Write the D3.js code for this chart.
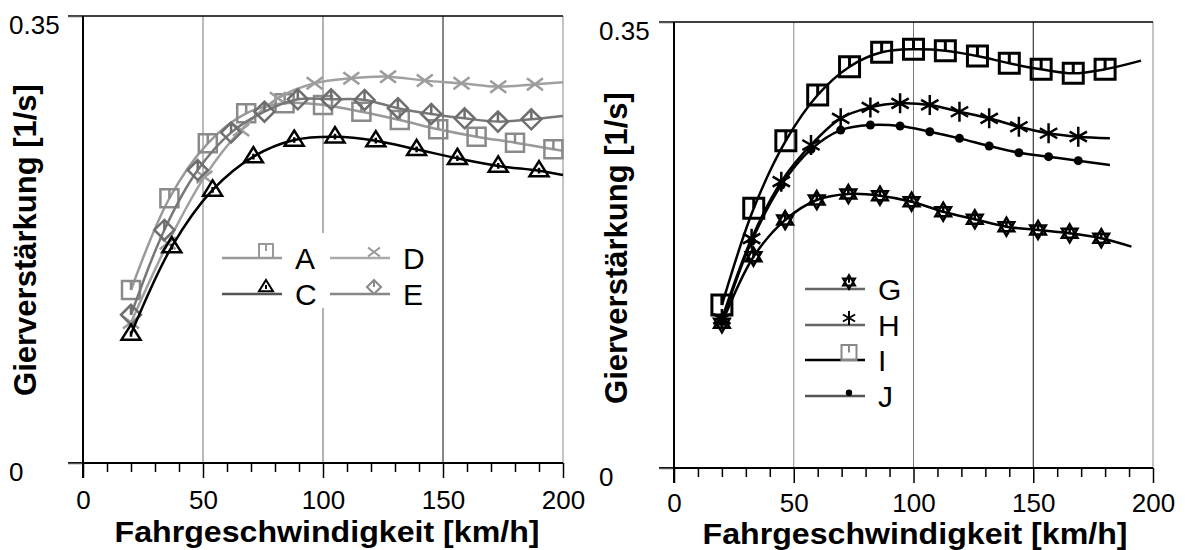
<!DOCTYPE html>
<html>
<head>
<meta charset="utf-8">
<script src="https://cdn.jsdelivr.net/npm/d3@7"></script>
<style>
  body { margin: 0; background: #fff; }
  svg { display: block; font-family: "Liberation Sans", Arial, sans-serif; }
</style>
</head>
<body>
<div id="chart"></div>
<script>
// left panel: speed [km/h] and yaw gain [1/s]
// the last entry of each series is only the end of the line, no marker
const speedA = [20, 36, 52, 68, 84, 100, 116, 132, 148, 164, 180, 196, 200];
const gainA  = [0.1355, 0.2073, 0.2503, 0.2738, 0.2817, 0.2803, 0.2751, 0.2686, 0.2613, 0.2555, 0.2508, 0.2456, 0.2445];
const speedC = [20, 37, 54, 71, 88, 105, 122, 139, 156, 173, 190, 200];
const gainC  = [0.101, 0.1694, 0.2138, 0.2399, 0.2529, 0.2555, 0.2524, 0.2456, 0.2386, 0.2326, 0.2289, 0.2255];
const speedD = [20, 35.3, 50.6, 65.9, 81.2, 96.5, 111.8, 127.1, 142.4, 157.7, 173, 188.3, 200];
const gainD  = [0.110, 0.172, 0.224, 0.2608, 0.2856, 0.2973, 0.3012, 0.3025, 0.2994, 0.2973, 0.2947, 0.2966, 0.2981];
const speedE = [20, 33.9, 47.8, 61.7, 75.6, 89.5, 103.4, 117.3, 131.2, 145.1, 159, 172.9, 186.8, 200];
const gainE  = [0.116, 0.1825, 0.2294, 0.2587, 0.2751, 0.2848, 0.2848, 0.2843, 0.2778, 0.2733, 0.2699, 0.2673, 0.2691, 0.2717];

// right panel
const speedG = [20, 33.2, 46.4, 59.6, 72.8, 86, 99.2, 112.4, 125.6, 138.8, 152, 165.2, 178.4, 191];
const gainG  = [0.1135, 0.1658, 0.1946, 0.2103, 0.2150, 0.2137, 0.2090, 0.2011, 0.1952, 0.1894, 0.1868, 0.1842, 0.1803, 0.1737];
const speedH = [20, 32.4, 44.8, 57.2, 69.6, 82, 94.4, 106.8, 119.2, 131.6, 144, 156.4, 168.8, 182];
const gainH  = [0.117, 0.180, 0.2247, 0.2535, 0.2744, 0.2830, 0.2862, 0.2849, 0.2796, 0.2744, 0.2678, 0.2627, 0.2600, 0.2587];
const speedI = [20, 33.3, 46.7, 60, 73.3, 86.7, 100, 113.3, 126.7, 140, 153.3, 166.7, 180, 195];
const gainI  = [0.1279, 0.2038, 0.2569, 0.2927, 0.3149, 0.3262, 0.3286, 0.3275, 0.3233, 0.3176, 0.3129, 0.3097, 0.3129, 0.3197];
const speedJ = [20, 32.4, 44.8, 57.2, 69.6, 82, 94.4, 106.8, 119.2, 131.6, 144, 156.4, 168.8, 182];
const gainJ  = [0.115, 0.178, 0.222, 0.250, 0.2652, 0.2692, 0.2684, 0.2639, 0.2587, 0.2527, 0.2474, 0.2443, 0.2412, 0.2378];

const xTicks = d3.range(0, 201, 10);
const xLabels = [0, 50, 100, 150, 200];
const yTicks = [0, 0.35];
const gridSpeeds = [50, 100, 150, 200];
const xTitle = "Fahrgeschwindigkeit [km/h]";
const yTitle = "Gierverstärkung [1/s]";

const width = 1185;
const height = 550;

const svg = d3.select("#chart")
  .append("svg")
  .attr("width", width)
  .attr("height", height);

svg.append("rect").attr("width", width).attr("height", height).attr("fill", "#fff");

// marker shapes, s = half size
function markerPath(type, s) {
  const h = 0.866 * s;
  switch (type) {
    case "square":
      return `M${-s},${-s}H${s}V${s}H${-s}Z M0,${-s}V0`;
    case "triangle":
      return `M0,${-s}L${s},${0.6 * s}L${-s},${0.6 * s}Z M0,${-0.3 * s}V${0.3 * s}`;
    case "diamond":
      return `M0,${-s}L${s},0L0,${s}L${-s},0Z M0,${-s}V0`;
    case "x":
      return `M${-s},${-0.75 * s}L${s},${0.75 * s}M${-s},${0.75 * s}L${s},${-0.75 * s}`;
    case "hexagram":
      return `M0,${-s}L${h},${0.5 * s}L${-h},${0.5 * s}Z M0,${s}L${h},${-0.5 * s}L${-h},${-0.5 * s}Z M0,${-0.45 * s}V${0.1 * s}`;
    case "asterisk":
      return `M0,${-s}V${s}M${-h},${-0.5 * s}L${h},${0.5 * s}M${-h},${0.5 * s}L${h},${-0.5 * s}`;
    case "dot":
      return d3.symbol(d3.symbolCircle, Math.PI * s * s)();
  }
}

const panels = [
  {
    left: 83, right: 563, top: 16, bottom: 463,
    labelX: 9, tickTextY: 509, titleX: 327, titleY: 542, yTitleX: 36, yTitleY: 240,
    gridColors: ["#777", "#666", "#111", "#888"],
    legendBox: [210, 233, 225, 75],
    series: [
      {name: "A", speed: speedA, gain: gainA, color: "#8a8a8a", line: "#999", marker: "square", size: 9, sw: 2.5,
       legend: {x: 222, y: 258, line: "#9a9a9a", stroke: "#999", size: 7}},
      {name: "D", speed: speedD, gain: gainD, color: "#9c9c9c", line: "#a0a0a0", marker: "x", size: 8, sw: 2.5,
       legend: {x: 330, y: 258, line: "#aaa", stroke: "#999", size: 6}},
      {name: "E", speed: speedE, gain: gainE, color: "#6e6e6e", line: "#777", marker: "diamond", size: 10, sw: 2.5,
       legend: {x: 330, y: 294, line: "#888", stroke: "#888", size: 7}},
      {name: "C", speed: speedC, gain: gainC, color: "#000", line: "#000", marker: "triangle", size: 9.5, sw: 2.5,
       legend: {x: 222, y: 294, line: "#555", stroke: "#000", size: 7}}
    ]
  },
  {
    left: 674, right: 1153, top: 22, bottom: 468,
    labelX: 599, tickTextY: 512, titleX: 915, titleY: 543.8, yTitleX: 627, yTitleY: 248,
    gridColors: ["#888", "#777", "#111", "#888"],
    legendBox: [800, 270, 105, 140],
    series: [
      {name: "G", speed: speedG, gain: gainG, color: "#000", line: "#000", marker: "hexagram", size: 9, sw: 2.5,
       legend: {x: 805, y: 289, line: "#666", stroke: "#000", size: 7}},
      {name: "H", speed: speedH, gain: gainH, color: "#000", line: "#000", marker: "asterisk", size: 10, sw: 2.5,
       legend: {x: 805, y: 325, line: "#666", stroke: "#000", size: 7}},
      {name: "I", speed: speedI, gain: gainI, color: "#000", line: "#000", marker: "square", size: 10, sw: 3,
       legend: {x: 805, y: 360, line: "#000", stroke: "#888", size: 7.5}},
      {name: "J", speed: speedJ, gain: gainJ, color: "#000", line: "#000", marker: "dot", size: 4.5, sw: 2.5,
       legend: {x: 805, y: 396, line: "#555", stroke: "#000", size: 3.2}}
    ]
  }
];

function drawPanel(p) {
  const x = d3.scaleLinear().domain([0, 200]).range([p.left, p.right]);
  const y = d3.scaleLinear().domain([0, 0.35]).range([p.bottom, p.top]);
  const g = svg.append("g");

  // vertical grid lines
  g.selectAll(".grid")
    .data(gridSpeeds)
    .join("line")
    .attr("x1", d => x(d)).attr("x2", d => x(d))
    .attr("y1", p.top).attr("y2", p.bottom)
    .attr("stroke", (d, i) => p.gridColors[i])
    .attr("stroke-width", 1);

  // top border
  g.append("line")
    .attr("x1", p.left - 15).attr("x2", p.right)
    .attr("y1", p.top).attr("y2", p.top)
    .attr("stroke", "#000").attr("stroke-width", 1.5);

  // x axis
  const ax = g.append("g")
    .attr("transform", `translate(0,${p.bottom})`)
    .call(d3.axisBottom(x).tickValues(xTicks).tickSize(15)
      .tickFormat(d => xLabels.includes(d) ? d : ""));
  ax.attr("font-size", null).attr("font-family", null);
  ax.select(".domain").remove();
  ax.selectAll(".tick line")
    .attr("y2", d => xLabels.includes(d) ? 15 : 9)
    .attr("stroke", "#000").attr("stroke-width", 1.5);
  ax.selectAll(".tick text")
    .attr("y", p.tickTextY - p.bottom)
    .attr("dy", null)
    .attr("font-size", 26)
    .attr("fill", "#000");

  g.append("line")
    .attr("x1", p.left - 15).attr("x2", p.right)
    .attr("y1", p.bottom).attr("y2", p.bottom)
    .attr("stroke", "#000").attr("stroke-width", 2);

  // y axis
  const ay = g.append("g")
    .attr("transform", `translate(${p.left},0)`)
    .call(d3.axisLeft(y).tickValues(yTicks).tickSize(15).tickFormat(d => d === 0 ? "0" : "0.35"));
  ay.attr("font-size", null).attr("font-family", null);
  ay.select(".domain").remove();
  ay.selectAll(".tick line").attr("stroke", "#555").attr("stroke-width", 1.5);
  ay.selectAll(".tick text")
    .attr("x", p.labelX - p.left)
    .attr("y", 9)
    .attr("text-anchor", "start")
    .attr("font-size", 26)
    .attr("fill", "#000");

  g.append("line")
    .attr("x1", p.left).attr("x2", p.left)
    .attr("y1", p.top).attr("y2", p.bottom + 15)
    .attr("stroke", "#000").attr("stroke-width", 2);

  // titles
  g.append("text")
    .attr("x", p.titleX).attr("y", p.titleY)
    .attr("text-anchor", "middle")
    .attr("font-size", 29).attr("font-weight", "bold")
    .attr("textLength", 425).attr("lengthAdjust", "spacingAndGlyphs")
    .text(xTitle);

  g.append("text")
    .attr("transform", `translate(${p.yTitleX},${p.yTitleY}) rotate(-90)`)
    .attr("text-anchor", "middle")
    .attr("font-size", 31).attr("font-weight", "bold")
    .text(yTitle);

  // series
  const line = d3.line()
    .x(d => x(d[0]))
    .y(d => y(d[1]))
    .curve(d3.curveCatmullRom.alpha(0.5));

  p.series.forEach(s => {
    const pts = s.speed.map((v, i) => [v, s.gain[i]]);
    g.append("path")
      .attr("d", line(pts))
      .attr("fill", "none")
      .attr("stroke", s.line)
      .attr("stroke-width", 2.5);

    g.append("g")
      .selectAll("path")
      .data(pts.slice(0, -1))
      .join("path")
      .attr("transform", d => `translate(${x(d[0])},${y(d[1])})`)
      .attr("d", markerPath(s.marker, s.size))
      .attr("fill", s.marker === "dot" ? s.color : "none")
      .attr("stroke", s.marker === "dot" ? "none" : s.color)
      .attr("stroke-width", s.sw);
  });

  // legend
  const lb = p.legendBox;
  g.append("rect")
    .attr("x", lb[0]).attr("y", lb[1]).attr("width", lb[2]).attr("height", lb[3])
    .attr("fill", "#fff");

  p.series.forEach(s => {
    const L = s.legend;
    g.append("line")
      .attr("x1", L.x).attr("x2", L.x + 60)
      .attr("y1", L.y).attr("y2", L.y)
      .attr("stroke", L.line).attr("stroke-width", 2.5);
    g.append("path")
      .attr("transform", `translate(${L.x + 44},${L.y - L.size})`)
      .attr("d", markerPath(s.marker, L.size))
      .attr("fill", s.marker === "dot" ? L.stroke : "none")
      .attr("stroke", s.marker === "dot" ? "none" : L.stroke)
      .attr("stroke-width", 2);
    g.append("text")
      .attr("x", L.x + 73).attr("y", L.y + 10.5)
      .attr("font-size", 30)
      .text(s.name);
  });
}

panels.forEach(drawPanel);
</script>
</body>
</html>
